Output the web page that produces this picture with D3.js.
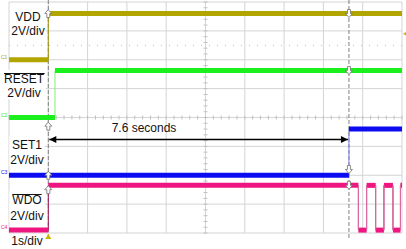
<!DOCTYPE html>
<html>
<head>
<meta charset="utf-8">
<script src="https://cdn.jsdelivr.net/npm/d3@7"></script>
<style>
  body { margin: 0; background: #fff; }
  svg { display: block; font-family: "Liberation Sans", Arial, sans-serif; }
</style>
</head>
<body>
<svg></svg>
<script>
// time in seconds, levels in volts above each channel's ground
const vddTimes = [-1, 0, 9];
const vddVolts = [0, 3.2, 3.2];
const resetTimes = [-1, 0.17, 9];
const resetVolts = [0, 3.25, 3.25];
const set1Times = [-1, 7.65, 9];
const set1Volts = [0, 3.2, 3.2];
const wdoTimes = [-1, 0, 7.89, 8.1, 8.33, 8.54, 8.77, 8.96, 9];
const wdoVolts = [0, 3.1, 0, 3.1, 0, 3.1, 0, 3.1, 3.1];

const channelNames = ["VDD", "RESET", "SET1", "WDO"];
const channelScales = ["2V/div", "2V/div", "2V/div", "2V/div"];
const channelTags = ["C1", "C2", "C3", "C4"];
const channelOffsets = [4, 0, -4, -7.8]; // ground position on screen, volts
const cursorTimes = [0, 7.65];
const cursorLabel = "7.6 seconds";
const timeLabel = "1s/div";
const triggerLevel = 1.8; // C1
const refLevel = 1.0;     // C1 dotted level

const width = 406, height = 249;
const gridL = 9, gridR = 402, gridT = 2, gridB = 233;

const svg = d3.select("svg").attr("width", width).attr("height", height);

const x = d3.scaleLinear().domain([-1, 9]).range([gridL, gridR]);
const y = d3.scaleLinear().domain([-8, 8]).range([gridB, gridT]); // 2V/div, 8 div

const colors = ["#b3a500", "#1cf01c", "#0c0cf2", "#ee1680"];
const edgeColors = ["#a89a10", "#7cf07c", "#8080e0", "#e070a8"];

// grid
const grid = svg.append("g");
grid.selectAll(".vl")
  .data(d3.range(-1, 9.01, 1))
  .enter().append("line")
  .attr("x1", (d) => x(d)).attr("x2", (d) => x(d))
  .attr("y1", gridT).attr("y2", gridB)
  .attr("stroke", "#d4d4d4");
grid.selectAll(".hl")
  .data(d3.range(-8, 8.01, 2))
  .enter().append("line")
  .attr("x1", gridL).attr("x2", gridR)
  .attr("y1", (d) => y(d)).attr("y2", (d) => y(d))
  .attr("stroke", "#d4d4d4");
// center ticks
grid.selectAll(".tx")
  .data(d3.range(-1, 9.001, 0.2))
  .enter().append("line")
  .attr("x1", (d) => x(d)).attr("x2", (d) => x(d))
  .attr("y1", y(0) - 2).attr("y2", y(0) + 2)
  .attr("stroke", "#c0c0c0");
grid.selectAll(".ty")
  .data(d3.range(-8, 8.001, 0.4))
  .enter().append("line")
  .attr("x1", x(4) - 2).attr("x2", x(4) + 2)
  .attr("y1", (d) => y(d)).attr("y2", (d) => y(d))
  .attr("stroke", "#c0c0c0");
// C1 reference level (dotted)
grid.append("line")
  .attr("x1", gridL).attr("x2", gridR)
  .attr("y1", y(channelOffsets[0] + refLevel)).attr("y2", y(channelOffsets[0] + refLevel))
  .attr("stroke", "#b8b8b8")
  .attr("stroke-dasharray", "1,7");

// labels with white boxes
const labelPos = [
  { x: 28, y: [21, 35] },
  { x: 24, y: [83, 97] },
  { x: 27, y: [149, 164] },
  { x: 27, y: [204, 220] },
];
const overline = [false, true, false, true];

const labels = svg.append("g");
channelNames.forEach((name, i) => {
  const g = labels.append("g");
  const t1 = g.append("text")
    .attr("x", labelPos[i].x).attr("y", labelPos[i].y[0])
    .attr("text-anchor", "middle").attr("font-size", 12).attr("fill", "#111")
    .text(name);
  const t2 = g.append("text")
    .attr("x", labelPos[i].x).attr("y", labelPos[i].y[1])
    .attr("text-anchor", "middle").attr("font-size", 12).attr("fill", "#111")
    .text(channelScales[i]);
  const b1 = t1.node().getBBox(), b2 = t2.node().getBBox();
  const x0 = Math.min(b1.x, b2.x) - 1, x1 = Math.max(b1.x + b1.width, b2.x + b2.width) + 1;
  g.insert("rect", "text")
    .attr("x", x0).attr("y", b1.y - 2)
    .attr("width", x1 - x0).attr("height", b2.y + b2.height - b1.y + 1)
    .attr("fill", "#fff");
  if (overline[i]) {
    g.append("line")
      .attr("x1", b1.x).attr("x2", b1.x + b1.width)
      .attr("y1", b1.y + 1.5).attr("y2", b1.y + 1.5)
      .attr("stroke", "#111").attr("stroke-width", 1);
  }
});
labels.append("text")
  .attr("x", 27).attr("y", 245)
  .attr("text-anchor", "middle").attr("font-size", 12).attr("fill", "#111")
  .text(timeLabel);

// cursors
svg.selectAll(".cursor")
  .data(cursorTimes)
  .enter().append("line")
  .attr("x1", (d) => x(d)).attr("x2", (d) => x(d))
  .attr("y1", 0).attr("y2", 240)
  .attr("stroke", "#808080")
  .attr("stroke-dasharray", "4,2");

// traces
const traces = [
  { times: vddTimes, volts: vddVolts },
  { times: resetTimes, volts: resetVolts },
  { times: set1Times, volts: set1Volts },
  { times: wdoTimes, volts: wdoVolts },
];

const line = d3.line().curve(d3.curveStepAfter);

traces.forEach((tr, i) => {
  const off = channelOffsets[i];
  const pts = tr.times.map((t, k) => [x(t), y(off + tr.volts[k])]);
  svg.append("path")
    .attr("d", line(pts))
    .attr("fill", "none")
    .attr("stroke", i === 3 ? "#a01858" : edgeColors[i])
    .attr("stroke-width", 1);
  svg.append("g").selectAll("line")
    .data(d3.pairs(tr.times.map((t, k) => ({ t, v: tr.volts[k] }))))
    .enter().append("line")
    .attr("x1", (d) => x(d[0].t)).attr("x2", (d) => x(d[1].t))
    .attr("y1", (d) => y(off + d[0].v)).attr("y2", (d) => y(off + d[0].v))
    .attr("stroke", colors[i])
    .attr("stroke-width", 5);
  // channel tag
  svg.append("text")
    .attr("x", 1).attr("y", y(off) - 1)
    .attr("font-size", 5).attr("fill", colors[i])
    .text(channelTags[i]);
});
// lighter pulse edges for WDO
svg.append("g").selectAll("line")
  .data(wdoTimes.slice(2, -1))
  .enter().append("line")
  .attr("x1", (d) => x(d)).attr("x2", (d) => x(d))
  .attr("y1", y(channelOffsets[3])).attr("y2", y(channelOffsets[3] + wdoVolts[1]))
  .attr("stroke", edgeColors[3]).attr("stroke-width", 1);

// cursor markers: [cursor index, channel, volts, direction]
const markers = [
  [0, 0, 3.2, -1], [0, 1, -0.6, -1], [0, 2, 0, -1], [0, 3, 2.8, -1],
  [1, 0, 3.2, 1], [1, 1, 3.25, 1], [1, 2, 0.4, 1], [1, 3, 3.1, 1],
];
svg.append("g").selectAll("path")
  .data(markers)
  .enter().append("path")
  .attr("d", "M0,-4L3.5,0L1.5,0L1.5,4L-1.5,4L-1.5,0L-3.5,0Z")
  .attr("transform", (d) => `translate(${x(cursorTimes[d[0]])},${y(channelOffsets[d[1]] + d[2])}) scale(1,${d[3] < 0 ? 1 : -1})`)
  .attr("fill", "#fff")
  .attr("stroke", "#707070")
  .attr("stroke-width", 0.8);

// trigger markers
svg.append("path")
  .attr("d", `M${x(0)},${gridB + 1}l-3,5h6z`)
  .attr("fill", "#c8b400");
svg.append("path")
  .attr("d", `M${gridR + 1},${y(channelOffsets[0] + triggerLevel)}l5,-3v6z`)
  .attr("fill", "#c8b400");

// measurement arrow
const defs = svg.append("defs");
defs.append("marker")
  .attr("id", "ah")
  .attr("viewBox", "0 0 10 10")
  .attr("refX", 10).attr("refY", 5)
  .attr("markerWidth", 9).attr("markerHeight", 7)
  .attr("markerUnits", "userSpaceOnUse")
  .attr("orient", "auto-start-reverse")
  .append("path").attr("d", "M0,0L10,5L0,10Z").attr("fill", "#000");

const ay = 139.5;
svg.append("line")
  .attr("x1", x(cursorTimes[0]) + 1).attr("x2", x(cursorTimes[1]) - 1)
  .attr("y1", ay).attr("y2", ay)
  .attr("stroke", "#000").attr("stroke-width", 1.3)
  .attr("marker-start", "url(#ah)").attr("marker-end", "url(#ah)");
svg.append("text")
  .attr("x", 144).attr("y", 131.5)
  .attr("text-anchor", "middle").attr("font-size", 12).attr("fill", "#111")
  .text(cursorLabel);
</script>
</body>
</html>
